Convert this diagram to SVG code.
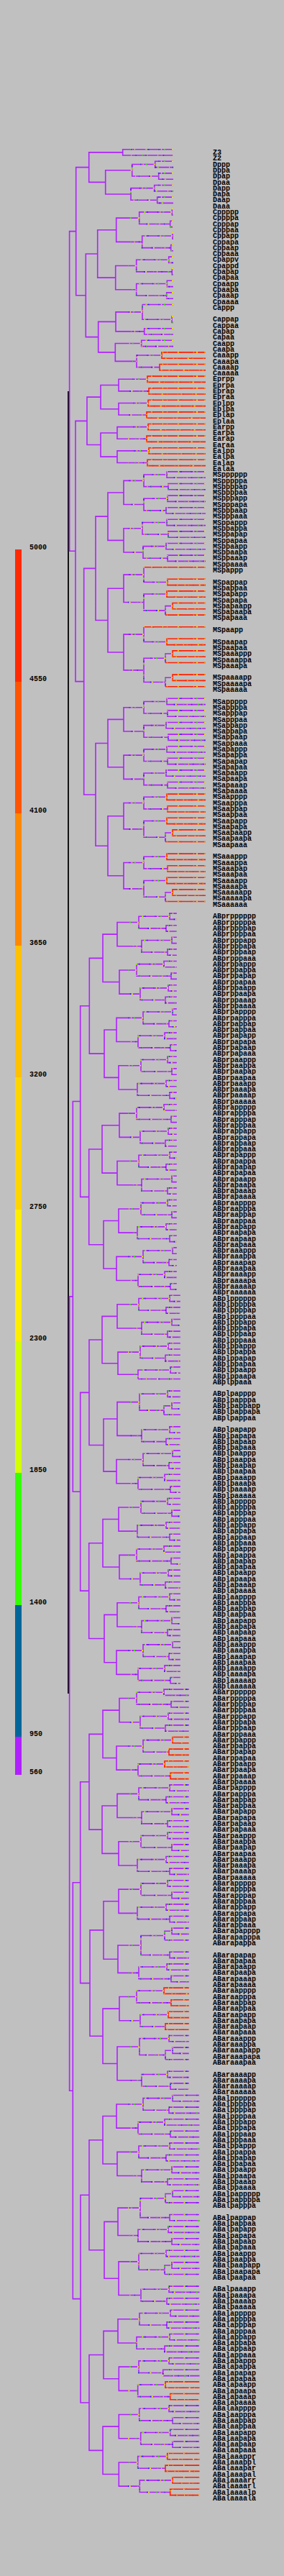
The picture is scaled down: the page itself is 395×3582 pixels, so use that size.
<svg xmlns="http://www.w3.org/2000/svg" width="395" height="3582" viewBox="0 0 395 3582">
<style>
.b{fill:none;stroke-width:1.6;vector-effect:non-scaling-stroke}
.bi{stroke:var(--i,#b020ff)}
.bt{stroke:var(--t,#b020ff)}
.br{stroke:var(--r,#ff2000)}
.rb{--t:var(--r,#ff2000)}
.lb{font-family:"Liberation Mono","DejaVu Sans Mono",monospace;font-size:10px;font-weight:bold;fill:#000}
</style>
<defs>
<clipPath id="cr"><rect x="178" y="0" width="120" height="3582"/></clipPath>
<g id="k1"><path class="b bi" d="M193 1.5H163V5.5H197M236 .5H193V2.5H231M239 4.5H197V6.5H233"/><path class="b bt" d="M294 0H236V1H294M294 2H231V3H294M294 4H239V5H294M294 6H233V7H294"/></g>
<g id="k2"><path class="b bi" d="M190 1.5H166V5.5H195M228 .5H190V2.5H238M234 4.5H195V6.5H230"/><path class="b bt" d="M294 0H228V1H294M294 2H238V3H294M294 4H234V5H294M294 6H230V7H294"/></g>
<g id="k3"><path class="b bi" d="M199 1.5H162V5.5H192M240 .5H199V2.5H235M229 4.5H192V6.5H237"/><path class="b bt" d="M294 0H240V1H294M294 2H235V3H294M294 4H229V5H294M294 6H237V7H294"/></g>
<g id="k4"><path class="b bi" d="M196 1.5H165V5.5H191M233 .5H196V2.5H239M231 4.5H191V6.5H236"/><path class="b bt" d="M294 0H233V1H294M294 2H239V3H294M294 4H231V5H294M294 6H236V7H294"/></g>
<g id="T">
<path class="b bi" d="M105.7 13.73H96.6V67.3H105M123.7 3H105.7V24.47H119.3M170.7 .5H123.7V5.5H146.7M183.7 3.5H146.7V7.5H182M215.7 2.5H183.7V4.5H220.7M214.7 6.5H182V8.5H218.7M135.7 17.5H119.3V31.44H136.7M161.7 13.5H135.7V21.5H160.7M193.7 11.5H161.7V15.5H197.7M239.3 10.5H193.7V12.5H236.7M240 14.5H197.7V16.5H237.7M189.7 19.5H160.7V23.5H189.7M234.7 18.5H189.7V20.5H239.3M232.3 22.5H189.7V24.5H231.7M161 28.875H136.7V34H160.3M198 27.25H161V30.5H200.7M239 28.5H198V26M196.7 32.5H160.3V35.5H190M225 34.5H190V36.5H222M121 45.5H105V89.15H116.7M140 41.5H121V49.5H140M165 39.5H140V43.5H165M205 38.5H165V40.5H207M206 42.5H165V44.5H204M163 47.5H140V51.5H163M206 46.5H163V48.5H204M207 50.5H163V52.5H205M133 70.2H116.7V108.1H133M150 61.5H133V78.9H150M172 57.5H150V65.5H172M200 55.5H172V59.5H200M232 54.5H200V56.5H234M233 58.5H200V60.5H231M198 63.5H172V67.5H199M232 62.5H198V64.5H234M231 66.5H199V68.5H233M172 73.56H150V84.25H172M200 71.25H172V75.875H200M233 72.5H200V70M232 74.5H200V77.25H230M240 76.5H230V78M200 81.25H172V87.25H200M232 82.5H200V80M230 85.25H200V89.25H230M240 84.5H230V86M240 88.5H230V90M150 99.5H133V116.69H150M172 95.5H150V103.5H172M200 93.5H172V97.5H200M232 92.5H200V94.5H233M231 96.5H200V98.5H234M200 101.5H172V105.5H200M232 100.5H200V102.5H233M231 104.5H200V106.5H233M172 111.69H150V121.69H172M200 109.5H172V113.875H200M232 108.5H200V110.5H233M232 112.5H200V115.25H230M240 114.5H230V116M200 119.5H172V123.875H200M232 118.5H200V120.5H233M232 122.5H200V125.25H230M240 124.5H230V126"/>
<path class="b bi" d="M101.3 192.19H96.6V325.24H101.3M111.7 159.5H101.3V224.88H111.7M124.3 143.5H111.7V175.5H123.7M143 135.5H124.3V151.5H145M142 167.5H123.7V183.5H144M163 131.5H143V139.5H166M162 147.5H145V155.5H165M166 163.5H142V171.5H163M165 179.5H144V187.5H162M124 208.27H111.7V241.5H123.7M142 199.44H124V217.09H144M163 195.5H142V203.375H164M195 201.5H164V205.25H192M234 200.5H195V202.5H230M237 204.5H192V206M163 212.69H144V221.5H162M194 209.875H163V215.5H197M233 208.5H194V211.25H228M239 210.5H228V212M236 214.5H197V216.5H231M143 233.5H123.7V249.5H145M165 229.5H143V237.5H166M163 245.5H145V253.5H162M111.7 290.36H101.3V360.11H112M124 273.5H111.7V307.22H125M143 265.5H124V281.5H142M166 261.5H143V269.5H162M163 277.5H142V285.5H165M144 298.34H125V316.09H143M165 293.5H144V303.19H164M196 300.875H164V305.5H193M229 299.25H196V302.5H236M239 298.5H229V300M232 304.5H193V306.5H238M166 311.5H143V320.69H163M194 317.875H163V323.5H197M235 316.5H194V319.25H230M240 318.5H230V320M233 322.5H197V324.5H237M124 342.72H112V377.5H124M143 333.5H124V351.94H145M162 329.5H143V337.5H163M164 347.19H145V356.69H165M195 344.875H164V349.5H192M230 343.25H195V346.5H236M240 342.5H230V344M234 348.5H192V350.5H239M193 353.875H165V359.5H196M231 352.5H193V355.25H229M239 354.5H229V356M235 358.5H196V360.5H232M144 369.5H124V385.5H143M164 365.5H144V373.5H165.3M194 363.5H164V367.5H190M237 362.5H194V364.5H232M236 366.5H190V368.5H229M193 371.5H165.3V375.5H191.7M235 370.5H193V372.5H226.7M230 374.5H191.7V376.5H236.7M165.3 381.5H143V389.5H165.3M193.7 379.5H165.3V383.5H195.7M235 378.5H193.7V380.5H240M236.7 382.5H195.7V384.5H240M191.7 387.5H165.3V391.5H194.3M232.7 386.5H191.7V388.5H230M240 390.5H194.3V392.5H236.7"/>
<path class="b bt" d="M241 0H170.7V1H241M241 2H215.7V3H241M241 4H220.7V5H241M241 6H214.7V7H241M241 8H218.7V9H241M241 10H239.3V11H241M241 12H236.7V13H241M241 14H240V15H241M241 16H237.7V17H241M241 18H234.7V19H241M241 20H239.3V21H241M241 22H232.3V23H241M241 24H231.7V25H241M241 26H198M241 28H239V29H241M241 30H200.7V31H241M241 32H196.7V33H241M286 54H232V55H286M286 56H234V57H286M286 58H233V59H286M286 60H231V61H286M286 62H232V63H286M286 64H234V65H286M286 66H231V67H286M286 68H233V69H286M286 92H232V93H286M286 94H233V95H286M286 96H231V97H286M286 98H234V99H286M286 100H232V101H286M286 102H233V103H286M286 104H231V105H286M286 106H233V107H286M294 200H234V201H294M294 202H230V203H294M294 204H237V205H294M294 206H192M294 208H233V209H294M294 210H239V211H294M294 212H228M294 214H236V215H294M294 216H231V217H294M294 298H239V299H294M294 300H229M294 302H236V303H294M294 304H232V305H294M294 306H238V307H294M294 316H235V317H294M294 318H240V319H294M294 320H230M294 322H233V323H294M294 324H237V325H294M294 342H240V343H294M294 344H230M294 346H236V347H294M294 348H234V349H294M294 350H239V351H294M294 352H231V353H294M294 354H239V355H294M294 356H229M294 358H235V359H294M294 360H232V361H294M294 362H237V363H294M294 364H232V365H294M294 366H236V367H294M294 368H229V369H294M294 370H235V371H294M294 372H226.7V373H294M294 378H235V379H294M294 380H240V381H294M294 382H236.7V383H294M294 384H240V385H294"/>
<path class="b br" d="M286 34H225V35H286M286 36H222V37H286M286 38H205V39H286M286 40H207V41H286M286 42H206V43H286M286 44H204V45H286M286 46H206V47H286M286 48H204V49H286M286 50H207V51H286M286 52H205V53H286M286 70H200M286 72H233V73H286M286 74H232V75H286M286 76H240V77H286M286 78H230M286 80H200M286 82H232V83H286M286 84H240V85H286M286 86H230M286 88H240V89H286M286 90H230M286 108H232V109H286M286 110H233V111H286M286 112H232V113H286M286 114H240V115H286M286 116H230M286 118H232V119H286M286 120H233V121H286M286 122H232V123H286M286 124H240V125H286M286 126H230M294 374H230V375H294M294 376H236.7V377H294M294 386H232.7V387H294M294 388H230V389H294M294 390H240V391H294M294 392H236.7V393H294"/>
<use href="#k1" y="128"/><use href="#k2" y="136"/><use href="#k3" y="144"/><use href="#k4" y="152"/>
<use href="#k2" y="160"/><use href="#k1" y="168"/><use href="#k4" y="176"/><use href="#k3" y="184"/>
<use href="#k1" y="192"/><use href="#k3" y="218"/>
<use href="#k4" y="226"/><use href="#k2" y="234"/><use href="#k1" y="242"/><use href="#k3" y="250"/>
<use href="#k2" y="258"/><use href="#k3" y="266" class="rb"/><use href="#k1" y="274"/><use href="#k4" y="282"/>
<use href="#k4" y="290"/><use href="#k2" y="308" class="rb"/>
<use href="#k3" y="326"/><use href="#k1" y="334"/>
</g>
</defs>
<rect width="395" height="3582" fill="#c0c0c0"/>
<g id="legend">
<rect x="21" y="764" width="9" height="184" fill="#ff2a00"/>
<rect x="21" y="948" width="9" height="183" fill="#ff5500"/>
<rect x="21" y="1131" width="9" height="184" fill="#ff8800"/>
<rect x="21" y="1315" width="9" height="183" fill="#ffc000"/>
<rect x="21" y="1498" width="9" height="184" fill="#ffd500"/>
<rect x="21" y="1682" width="9" height="183" fill="#ffee00"/>
<rect x="21" y="1865" width="9" height="183" fill="#d4ff00"/>
<rect x="21" y="2048" width="9" height="184" fill="#33ff00"/>
<rect x="21" y="2232" width="9" height="183" fill="#006699"/>
<rect x="21" y="2415" width="9" height="53" fill="#b020ff"/>
<text class="lb"><tspan x="41" y="764">5000</tspan><tspan x="41" y="947">4550</tspan><tspan x="41" y="1130">4100</tspan><tspan x="41" y="1314">3650</tspan><tspan x="41" y="1497">3200</tspan><tspan x="41" y="1681">2750</tspan><tspan x="41" y="1864">2300</tspan><tspan x="41" y="2047">1850</tspan><tspan x="41" y="2231">1400</tspan><tspan x="41" y="2414">950</tspan><tspan x="41" y="2467">560</tspan></text>
</g>
<g id="connectors">
<path d="M95 543.9V2355" stroke="#000" stroke-width="1.8" fill="none"/>
<g transform="translate(0 207.7) scale(1 8.3)"><use href="#T"/></g>
<g clip-path="url(#cr)"><g transform="translate(0 207.7) scale(1 8.3)">
<use href="#T" style="--i:#ecec00;--t:#ecec00;--r:#ff9000" stroke-dasharray="2 14 1 20"/>
<use href="#T" style="--i:#33e000;--t:#33e000;--r:#ffd000" stroke-dasharray="1 19 2 25" stroke-dashoffset="9"/>
<use href="#T" style="--i:#1a1aff;--t:#1a1aff;--r:#ff2000" stroke-dasharray="1.5 23 1 13" stroke-dashoffset="5"/>
</g></g>
</g>
<g id="covers" fill="#c0c0c0">
<rect x="245.8" y="1265" width="50" height="532"/>
<rect x="250.8" y="1797" width="45" height="548"/>
<rect x="262.8" y="2345" width="33" height="564"/>
<rect x="277.5" y="2909" width="18" height="566"/>
</g>
<g id="n-P" class="lb"><text><tspan x="296" y="215">Z3</tspan><tspan x="296" dy="8.3">Z2</tspan></text></g>
<g id="n-D" class="lb"><text><tspan x="296" y="231.6">Dppp</tspan><tspan x="296" dy="8.3">Dppa</tspan><tspan x="296" dy="8.3">Dpap</tspan><tspan x="296" dy="8.3">Dpaa</tspan><tspan x="296" dy="8.3">Dapp</tspan><tspan x="296" dy="8.3">Dapa</tspan><tspan x="296" dy="8.3">Daap</tspan><tspan x="296" dy="8.3">Daaa</tspan></text></g>
<g id="n-C" class="lb"><text><tspan x="296" y="298">Cppppp</tspan><tspan x="296" dy="8.3">Cppppa</tspan><tspan x="296" dy="8.3">Cpppap</tspan><tspan x="296" dy="8.3">Cpppaa</tspan><tspan x="296" dy="8.3">Cppapp</tspan><tspan x="296" dy="8.3">Cppapa</tspan><tspan x="296" dy="8.3">Cppaap</tspan><tspan x="296" dy="8.3">Cppaaa</tspan><tspan x="296" dy="8.3">Cpappv</tspan><tspan x="296" dy="8.3">Cpappd</tspan><tspan x="296" dy="8.3">Cpapap</tspan><tspan x="296" dy="8.3">Cpapaa</tspan><tspan x="296" dy="8.3">Cpaapp</tspan><tspan x="296" dy="8.3">Cpaapa</tspan><tspan x="296" dy="8.3">Cpaaap</tspan><tspan x="296" dy="8.3">Cpaaaa</tspan><tspan x="296" dy="8.3">Cappp</tspan><tspan x="296" dy="16.6">Cappap</tspan><tspan x="296" dy="8.3">Cappaa</tspan><tspan x="296" dy="8.3">Capap</tspan><tspan x="296" dy="8.3">Capaa</tspan><tspan x="296" dy="8.3">Caapp</tspan><tspan x="296" dy="8.3">Caapa</tspan><tspan x="296" dy="8.3">Caaapp</tspan><tspan x="296" dy="8.3">Caaapa</tspan><tspan x="296" dy="8.3">Caaaap</tspan><tspan x="296" dy="8.3">Caaaaa</tspan></text></g>
<g id="n-E" class="lb"><text><tspan x="296" y="530.4">Eprpp</tspan><tspan x="296" dy="8.3">Eprpa</tspan><tspan x="296" dy="8.3">Eprap</tspan><tspan x="296" dy="8.3">Epraa</tspan><tspan x="296" dy="8.3">Eplpp</tspan><tspan x="296" dy="8.3">Eplpa</tspan><tspan x="296" dy="8.3">Eplap</tspan><tspan x="296" dy="8.3">Eplaa</tspan><tspan x="296" dy="8.3">Earpp</tspan><tspan x="296" dy="8.3">Earpa</tspan><tspan x="296" dy="8.3">Earap</tspan><tspan x="296" dy="8.3">Earaa</tspan><tspan x="296" dy="8.3">Ealpp</tspan><tspan x="296" dy="8.3">Ealpa</tspan><tspan x="296" dy="8.3">Ealap</tspan><tspan x="296" dy="8.3">Ealaa</tspan></text></g>
<g id="n-MS" class="lb"><text><tspan x="296" y="663.2">MSpppppp</tspan><tspan x="296" dy="8.3">MSpppppa</tspan><tspan x="296" dy="8.3">MSppppap</tspan><tspan x="296" dy="8.3">MSppppaa</tspan><tspan x="296" dy="8.3">MSpppapp</tspan><tspan x="296" dy="8.3">MSpppapa</tspan><tspan x="296" dy="8.3">MSpppaap</tspan><tspan x="296" dy="8.3">MSpppaaa</tspan><tspan x="296" dy="8.3">MSppappp</tspan><tspan x="296" dy="8.3">MSppappa</tspan><tspan x="296" dy="8.3">MSppapap</tspan><tspan x="296" dy="8.3">MSppapaa</tspan><tspan x="296" dy="8.3">MSppaapp</tspan><tspan x="296" dy="8.3">MSppaapa</tspan><tspan x="296" dy="8.3">MSppaaap</tspan><tspan x="296" dy="8.3">MSppaaaa</tspan><tspan x="296" dy="8.3">MSpappp</tspan><tspan x="296" dy="16.6">MSpappap</tspan><tspan x="296" dy="8.3">MSpappaa</tspan><tspan x="296" dy="8.3">MSpapapp</tspan><tspan x="296" dy="8.3">MSpapapa</tspan><tspan x="296" dy="8.3">MSpapaapp</tspan><tspan x="296" dy="8.3">MSpapaapa</tspan><tspan x="296" dy="8.3">MSpapaaa</tspan><tspan x="296" dy="16.6">MSpaapp</tspan><tspan x="296" dy="16.6">MSpaapap</tspan><tspan x="296" dy="8.3">MSpaapaa</tspan><tspan x="296" dy="8.3">MSpaaappp</tspan><tspan x="296" dy="8.3">MSpaaappa</tspan><tspan x="296" dy="8.3">MSpaaapa</tspan><tspan x="296" dy="16.6">MSpaaaapp</tspan><tspan x="296" dy="8.3">MSpaaaapa</tspan><tspan x="296" dy="8.3">MSpaaaaa</tspan><tspan x="296" dy="16.6">MSappppp</tspan><tspan x="296" dy="8.3">MSappppa</tspan><tspan x="296" dy="8.3">MSapppap</tspan><tspan x="296" dy="8.3">MSapppaa</tspan><tspan x="296" dy="8.3">MSappapp</tspan><tspan x="296" dy="8.3">MSappapa</tspan><tspan x="296" dy="8.3">MSappaap</tspan><tspan x="296" dy="8.3">MSappaaa</tspan><tspan x="296" dy="8.3">MSapappp</tspan><tspan x="296" dy="8.3">MSapappa</tspan><tspan x="296" dy="8.3">MSapapap</tspan><tspan x="296" dy="8.3">MSapapaa</tspan><tspan x="296" dy="8.3">MSapaapp</tspan><tspan x="296" dy="8.3">MSapaapa</tspan><tspan x="296" dy="8.3">MSapaaap</tspan><tspan x="296" dy="8.3">MSapaaaa</tspan><tspan x="296" dy="8.3">MSaapppp</tspan><tspan x="296" dy="8.3">MSaapppa</tspan><tspan x="296" dy="8.3">MSaappap</tspan><tspan x="296" dy="8.3">MSaappaa</tspan><tspan x="296" dy="8.3">MSaapapp</tspan><tspan x="296" dy="8.3">MSaapapa</tspan><tspan x="296" dy="8.3">MSaapaapp</tspan><tspan x="296" dy="8.3">MSaapaapa</tspan><tspan x="296" dy="8.3">MSaapaaa</tspan><tspan x="296" dy="16.6">MSaaappp</tspan><tspan x="296" dy="8.3">MSaaappa</tspan><tspan x="296" dy="8.3">MSaaapap</tspan><tspan x="296" dy="8.3">MSaaapaa</tspan><tspan x="296" dy="8.3">MSaaaapp</tspan><tspan x="296" dy="8.3">MSaaaapa</tspan><tspan x="296" dy="8.3">MSaaaaapp</tspan><tspan x="296" dy="8.3">MSaaaaapa</tspan><tspan x="296" dy="8.3">MSaaaaaa</tspan></text></g>
<g id="n-ABpr" class="lb"><text><tspan x="296" y="1277.4">ABprpppppp</tspan><tspan x="296" dy="8.3">ABprpppppa</tspan><tspan x="296" dy="8.3">ABprppppap</tspan><tspan x="296" dy="8.3">ABprppppaa</tspan><tspan x="296" dy="8.3">ABprpppapp</tspan><tspan x="296" dy="8.3">ABprpppapa</tspan><tspan x="296" dy="8.3">ABprpppaap</tspan><tspan x="296" dy="8.3">ABprpppaaa</tspan><tspan x="296" dy="8.3">ABprppappp</tspan><tspan x="296" dy="8.3">ABprppappa</tspan><tspan x="296" dy="8.3">ABprppapap</tspan><tspan x="296" dy="8.3">ABprppapaa</tspan><tspan x="296" dy="8.3">ABprppaapp</tspan><tspan x="296" dy="8.3">ABprppaapa</tspan><tspan x="296" dy="8.3">ABprppaaap</tspan><tspan x="296" dy="8.3">ABprppaaaa</tspan><tspan x="296" dy="8.3">ABprpapppp</tspan><tspan x="296" dy="8.3">ABprpapppa</tspan><tspan x="296" dy="8.3">ABprpappap</tspan><tspan x="296" dy="8.3">ABprpappaa</tspan><tspan x="296" dy="8.3">ABprpapapp</tspan><tspan x="296" dy="8.3">ABprpapapa</tspan><tspan x="296" dy="8.3">ABprpapaap</tspan><tspan x="296" dy="8.3">ABprpapaaa</tspan><tspan x="296" dy="8.3">ABprpaappp</tspan><tspan x="296" dy="8.3">ABprpaappa</tspan><tspan x="296" dy="8.3">ABprpaapap</tspan><tspan x="296" dy="8.3">ABprpaapaa</tspan><tspan x="296" dy="8.3">ABprpaaapp</tspan><tspan x="296" dy="8.3">ABprpaaapa</tspan><tspan x="296" dy="8.3">ABprpaaaap</tspan><tspan x="296" dy="8.3">ABprpaaaaa</tspan><tspan x="296" dy="8.3">ABprappppp</tspan><tspan x="296" dy="8.3">ABprappppa</tspan><tspan x="296" dy="8.3">ABprapppap</tspan><tspan x="296" dy="8.3">ABprapppaa</tspan><tspan x="296" dy="8.3">ABprappapp</tspan><tspan x="296" dy="8.3">ABprappapa</tspan><tspan x="296" dy="8.3">ABprappaap</tspan><tspan x="296" dy="8.3">ABprappaaa</tspan><tspan x="296" dy="8.3">ABprapappp</tspan><tspan x="296" dy="8.3">ABprapappa</tspan><tspan x="296" dy="8.3">ABprapapap</tspan><tspan x="296" dy="8.3">ABprapapaa</tspan><tspan x="296" dy="8.3">ABprapaapp</tspan><tspan x="296" dy="8.3">ABprapaapa</tspan><tspan x="296" dy="8.3">ABprapaaap</tspan><tspan x="296" dy="8.3">ABprapaaaa</tspan><tspan x="296" dy="8.3">ABpraapppp</tspan><tspan x="296" dy="8.3">ABpraapppa</tspan><tspan x="296" dy="8.3">ABpraappap</tspan><tspan x="296" dy="8.3">ABpraappaa</tspan><tspan x="296" dy="8.3">ABpraapapp</tspan><tspan x="296" dy="8.3">ABpraapapa</tspan><tspan x="296" dy="8.3">ABpraapaap</tspan><tspan x="296" dy="8.3">ABpraapaaa</tspan><tspan x="296" dy="8.3">ABpraaappp</tspan><tspan x="296" dy="8.3">ABpraaappa</tspan><tspan x="296" dy="8.3">ABpraaapap</tspan><tspan x="296" dy="8.3">ABpraaapaa</tspan><tspan x="296" dy="8.3">ABpraaaapp</tspan><tspan x="296" dy="8.3">ABpraaaapa</tspan><tspan x="296" dy="8.3">ABpraaaaap</tspan><tspan x="296" dy="8.3">ABpraaaaaa</tspan></text></g>
<g id="n-ABpl" class="lb"><text><tspan x="296" y="1808.6">ABplpppppp</tspan><tspan x="296" dy="8.3">ABplpppppa</tspan><tspan x="296" dy="8.3">ABplppppap</tspan><tspan x="296" dy="8.3">ABplppppaa</tspan><tspan x="296" dy="8.3">ABplpppapp</tspan><tspan x="296" dy="8.3">ABplpppapa</tspan><tspan x="296" dy="8.3">ABplpppaap</tspan><tspan x="296" dy="8.3">ABplpppaaa</tspan><tspan x="296" dy="8.3">ABplppappp</tspan><tspan x="296" dy="8.3">ABplppappa</tspan><tspan x="296" dy="8.3">ABplppapap</tspan><tspan x="296" dy="8.3">ABplppapaa</tspan><tspan x="296" dy="8.3">ABplppaapp</tspan><tspan x="296" dy="8.3">ABplppaapa</tspan><tspan x="296" dy="8.3">ABplppaaa</tspan><tspan x="296" dy="16.6">ABplpapppp</tspan><tspan x="296" dy="8.3">ABplpapppa</tspan><tspan x="296" dy="8.3">ABplpappapp</tspan><tspan x="296" dy="8.3">ABplpappapa</tspan><tspan x="296" dy="8.3">ABplpappaa</tspan><tspan x="296" dy="16.6">ABplpapapp</tspan><tspan x="296" dy="8.3">ABplpapapa</tspan><tspan x="296" dy="8.3">ABplpapaap</tspan><tspan x="296" dy="8.3">ABplpapaaa</tspan><tspan x="296" dy="8.3">ABplpaappp</tspan><tspan x="296" dy="8.3">ABplpaappa</tspan><tspan x="296" dy="8.3">ABplpaapap</tspan><tspan x="296" dy="8.3">ABplpaapaa</tspan><tspan x="296" dy="8.3">ABplpaaapp</tspan><tspan x="296" dy="8.3">ABplpaaapa</tspan><tspan x="296" dy="8.3">ABplpaaaap</tspan><tspan x="296" dy="8.3">ABplpaaaaa</tspan><tspan x="296" dy="8.3">ABplappppp</tspan><tspan x="296" dy="8.3">ABplappppa</tspan><tspan x="296" dy="8.3">ABplapppap</tspan><tspan x="296" dy="8.3">ABplapppaa</tspan><tspan x="296" dy="8.3">ABplappapp</tspan><tspan x="296" dy="8.3">ABplappapa</tspan><tspan x="296" dy="8.3">ABplappaap</tspan><tspan x="296" dy="8.3">ABplappaaa</tspan><tspan x="296" dy="8.3">ABplapappp</tspan><tspan x="296" dy="8.3">ABplapappa</tspan><tspan x="296" dy="8.3">ABplapapap</tspan><tspan x="296" dy="8.3">ABplapapaa</tspan><tspan x="296" dy="8.3">ABplapaapp</tspan><tspan x="296" dy="8.3">ABplapaapa</tspan><tspan x="296" dy="8.3">ABplapaaap</tspan><tspan x="296" dy="8.3">ABplapaaaa</tspan><tspan x="296" dy="8.3">ABplaapppp</tspan><tspan x="296" dy="8.3">ABplaapppa</tspan><tspan x="296" dy="8.3">ABplaappap</tspan><tspan x="296" dy="8.3">ABplaappaa</tspan><tspan x="296" dy="8.3">ABplaapapp</tspan><tspan x="296" dy="8.3">ABplaapapa</tspan><tspan x="296" dy="8.3">ABplaapaap</tspan><tspan x="296" dy="8.3">ABplaapaaa</tspan><tspan x="296" dy="8.3">ABplaaappp</tspan><tspan x="296" dy="8.3">ABplaaappa</tspan><tspan x="296" dy="8.3">ABplaaapap</tspan><tspan x="296" dy="8.3">ABplaaapaa</tspan><tspan x="296" dy="8.3">ABplaaaapp</tspan><tspan x="296" dy="8.3">ABplaaaapa</tspan><tspan x="296" dy="8.3">ABplaaaaap</tspan><tspan x="296" dy="8.3">ABplaaaaaa</tspan></text></g>
<g id="n-ABar" class="lb"><text><tspan x="296" y="2356.4">ABarpppppp</tspan><tspan x="296" dy="8.3">ABarpppppa</tspan><tspan x="296" dy="8.3">ABarppppap</tspan><tspan x="296" dy="8.3">ABarppppaa</tspan><tspan x="296" dy="8.3">ABarpppapp</tspan><tspan x="296" dy="8.3">ABarpppapa</tspan><tspan x="296" dy="8.3">ABarpppaap</tspan><tspan x="296" dy="8.3">ABarpppaaa</tspan><tspan x="296" dy="8.3">ABarppappp</tspan><tspan x="296" dy="8.3">ABarppappa</tspan><tspan x="296" dy="8.3">ABarppapap</tspan><tspan x="296" dy="8.3">ABarppapaa</tspan><tspan x="296" dy="8.3">ABarppaapp</tspan><tspan x="296" dy="8.3">ABarppaapa</tspan><tspan x="296" dy="8.3">ABarppaaap</tspan><tspan x="296" dy="8.3">ABarppaaaa</tspan><tspan x="296" dy="8.3">ABarpapppp</tspan><tspan x="296" dy="8.3">ABarpapppa</tspan><tspan x="296" dy="8.3">ABarpappap</tspan><tspan x="296" dy="8.3">ABarpappaa</tspan><tspan x="296" dy="8.3">ABarpapapp</tspan><tspan x="296" dy="8.3">ABarpapapa</tspan><tspan x="296" dy="8.3">ABarpapaap</tspan><tspan x="296" dy="8.3">ABarpapaaa</tspan><tspan x="296" dy="8.3">ABarpaappp</tspan><tspan x="296" dy="8.3">ABarpaappa</tspan><tspan x="296" dy="8.3">ABarpaapap</tspan><tspan x="296" dy="8.3">ABarpaapaa</tspan><tspan x="296" dy="8.3">ABarpaaapp</tspan><tspan x="296" dy="8.3">ABarpaaapa</tspan><tspan x="296" dy="8.3">ABarpaaaap</tspan><tspan x="296" dy="8.3">ABarpaaaaa</tspan><tspan x="296" dy="8.3">ABarappppp</tspan><tspan x="296" dy="8.3">ABarappppa</tspan><tspan x="296" dy="8.3">ABarapppap</tspan><tspan x="296" dy="8.3">ABarapppaa</tspan><tspan x="296" dy="8.3">ABarappapp</tspan><tspan x="296" dy="8.3">ABarappapa</tspan><tspan x="296" dy="8.3">ABarappaap</tspan><tspan x="296" dy="8.3">ABarappaaa</tspan><tspan x="296" dy="8.3">ABarapapppp</tspan><tspan x="296" dy="8.3">ABarapapppa</tspan><tspan x="296" dy="8.3">ABarapappa</tspan><tspan x="296" dy="16.6">ABarapapap</tspan><tspan x="296" dy="8.3">ABarapapaa</tspan><tspan x="296" dy="8.3">ABarapaapp</tspan><tspan x="296" dy="8.3">ABarapaapa</tspan><tspan x="296" dy="8.3">ABarapaaap</tspan><tspan x="296" dy="8.3">ABarapaaaa</tspan><tspan x="296" dy="8.3">ABaraapppp</tspan><tspan x="296" dy="8.3">ABaraapppa</tspan><tspan x="296" dy="8.3">ABaraappap</tspan><tspan x="296" dy="8.3">ABaraappaa</tspan><tspan x="296" dy="8.3">ABaraapapp</tspan><tspan x="296" dy="8.3">ABaraapapa</tspan><tspan x="296" dy="8.3">ABaraapaap</tspan><tspan x="296" dy="8.3">ABaraapaaa</tspan><tspan x="296" dy="8.3">ABaraaappp</tspan><tspan x="296" dy="8.3">ABaraaappa</tspan><tspan x="296" dy="8.3">ABaraaapapp</tspan><tspan x="296" dy="8.3">ABaraaapapa</tspan><tspan x="296" dy="8.3">ABaraaapaa</tspan><tspan x="296" dy="16.6">ABaraaaapp</tspan><tspan x="296" dy="8.3">ABaraaaapa</tspan><tspan x="296" dy="8.3">ABaraaaaap</tspan><tspan x="296" dy="8.3">ABaraaaaaa</tspan></text></g>
<g id="n-ABal" class="lb"><text><tspan x="296" y="2920.8">ABalpppppp</tspan><tspan x="296" dy="8.3">ABalpppppa</tspan><tspan x="296" dy="8.3">ABalppppap</tspan><tspan x="296" dy="8.3">ABalppppaa</tspan><tspan x="296" dy="8.3">ABalpppapp</tspan><tspan x="296" dy="8.3">ABalpppapa</tspan><tspan x="296" dy="8.3">ABalpppaap</tspan><tspan x="296" dy="8.3">ABalpppaaa</tspan><tspan x="296" dy="8.3">ABalppappp</tspan><tspan x="296" dy="8.3">ABalppappa</tspan><tspan x="296" dy="8.3">ABalppapap</tspan><tspan x="296" dy="8.3">ABalppapaa</tspan><tspan x="296" dy="8.3">ABalppaapp</tspan><tspan x="296" dy="8.3">ABalppaapa</tspan><tspan x="296" dy="8.3">ABalppaaap</tspan><tspan x="296" dy="8.3">ABalppaaaa</tspan><tspan x="296" dy="8.3">ABalpappppp</tspan><tspan x="296" dy="8.3">ABalpappppa</tspan><tspan x="296" dy="8.3">ABalpapppa</tspan><tspan x="296" dy="16.6">ABalpappap</tspan><tspan x="296" dy="8.3">ABalpappaa</tspan><tspan x="296" dy="8.3">ABalpapapp</tspan><tspan x="296" dy="8.3">ABalpapapa</tspan><tspan x="296" dy="8.3">ABalpapaap</tspan><tspan x="296" dy="8.3">ABalpapaaa</tspan><tspan x="296" dy="8.3">ABalpaappp</tspan><tspan x="296" dy="8.3">ABalpaappa</tspan><tspan x="296" dy="8.3">ABalpaapapp</tspan><tspan x="296" dy="8.3">ABalpaapapa</tspan><tspan x="296" dy="8.3">ABalpaapaa</tspan><tspan x="296" dy="16.6">ABalpaaapp</tspan><tspan x="296" dy="8.3">ABalpaaapa</tspan><tspan x="296" dy="8.3">ABalpaaaap</tspan><tspan x="296" dy="8.3">ABalpaaaaa</tspan><tspan x="296" dy="8.3">ABalappppp</tspan><tspan x="296" dy="8.3">ABalappppa</tspan><tspan x="296" dy="8.3">ABalapppap</tspan><tspan x="296" dy="8.3">ABalapppaa</tspan><tspan x="296" dy="8.3">ABalappapp</tspan><tspan x="296" dy="8.3">ABalappapa</tspan><tspan x="296" dy="8.3">ABalappaap</tspan><tspan x="296" dy="8.3">ABalappaaa</tspan><tspan x="296" dy="8.3">ABalapappp</tspan><tspan x="296" dy="8.3">ABalapappa</tspan><tspan x="296" dy="8.3">ABalapapap</tspan><tspan x="296" dy="8.3">ABalapapaa</tspan><tspan x="296" dy="8.3">ABalapaapp</tspan><tspan x="296" dy="8.3">ABalapaapa</tspan><tspan x="296" dy="8.3">ABalapaaap</tspan><tspan x="296" dy="8.3">ABalapaaaa</tspan><tspan x="296" dy="8.3">ABalaapppp</tspan><tspan x="296" dy="8.3">ABalaapppa</tspan><tspan x="296" dy="8.3">ABalaappap</tspan><tspan x="296" dy="8.3">ABalaappaa</tspan><tspan x="296" dy="8.3">ABalaapapp</tspan><tspan x="296" dy="8.3">ABalaapapa</tspan><tspan x="296" dy="8.3">ABalaapaap</tspan><tspan x="296" dy="8.3">ABalaapaaa</tspan><tspan x="296" dy="8.3">ABalaaappr</tspan><tspan x="296" dy="8.3">ABalaaappl</tspan><tspan x="296" dy="8.3">ABalaaapar</tspan><tspan x="296" dy="8.3">ABalaaapal</tspan><tspan x="296" dy="8.3">ABalaaaarr</tspan><tspan x="296" dy="8.3">ABalaaaarl</tspan><tspan x="296" dy="8.3">ABalaaaalp</tspan><tspan x="296" dy="8.3">ABalaaaala</tspan></text></g>
</svg>
